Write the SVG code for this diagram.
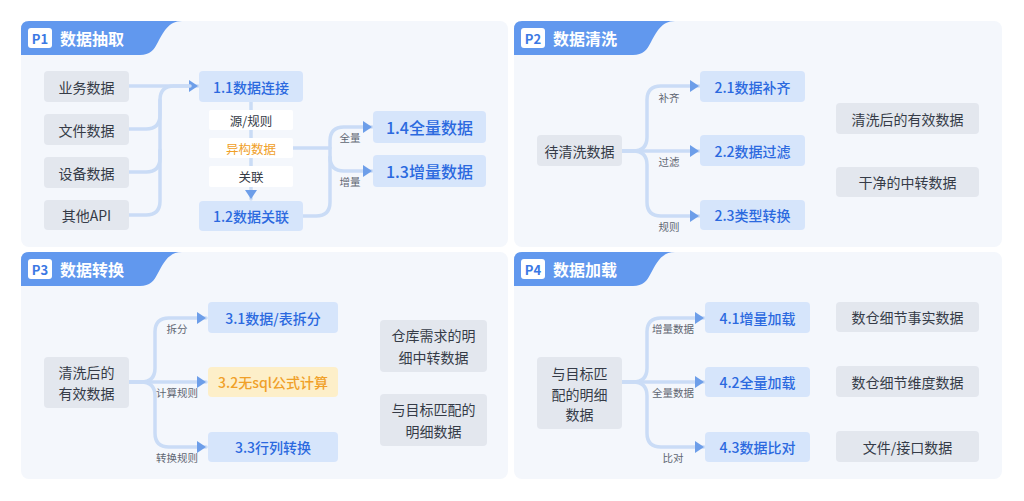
<svg xmlns="http://www.w3.org/2000/svg" width="1024" height="501" viewBox="0 0 1024 501">
<defs>
<style>
text{font-family:"Noto Sans CJK SC","Noto Sans",sans-serif;dominant-baseline:central;text-anchor:middle}
.panel{fill:#f4f7fc}
.tab{fill:#6198ee}
.badge{fill:#fff}
.bt{font-size:13px;font-weight:700;fill:#3b78e4}
.title{font-size:16px;font-weight:700;fill:#fff;text-anchor:start}
.g{fill:#e3e7ee}
.b{fill:#d6e5fb}
.w{fill:#fff}
.o{fill:#fdefc9}
.t{font-size:14px;fill:#353b47}
.tb{font-size:14px;font-weight:500;fill:#2b69df}
.tb16{font-size:16px;font-weight:500;fill:#2b69df}
.to{font-size:14px;font-weight:500;fill:#f0a028}
.ts{font-size:12.5px;fill:#353b47}
.to12{font-size:12.5px;fill:#f0a028}
.lbl{font-size:10.5px;fill:#5f6672}
.ln{fill:none;stroke:#cadcf6;stroke-width:3.5;stroke-linecap:round;stroke-linejoin:round}
</style>
<marker id="ah" markerWidth="9" markerHeight="12" refX="9" refY="6" orient="auto" markerUnits="userSpaceOnUse"><path d="M0,0 L9,6 L0,12 Z" fill="#6d9ee9"/></marker>
</defs>
<rect width="1024" height="501" fill="#fff"/>

<g id="panels">
<rect class="panel" x="21" y="21" width="487" height="226" rx="8"/>
<rect class="panel" x="514" y="21" width="488" height="226" rx="8"/>
<rect class="panel" x="21" y="252" width="487" height="227" rx="8"/>
<rect class="panel" x="514" y="252" width="488" height="227" rx="8"/>
</g>

<g id="tab-p1">
<path class="tab" d="M21,55 V29 Q21,21 29,21 H182 C168,21 163,33 158,42 C154,50 150,55 140,55 Z"/>
<rect class="badge" x="28" y="28" width="24" height="20" rx="3"/>
<text class="bt" x="40" y="38">P1</text>
<text class="title" x="60" y="38">数据抽取</text>
</g>
<g id="tab-p2">
<path class="tab" d="M514,55 V29 Q514,21 522,21 H675 C661,21 656,33 651,42 C647,50 643,55 633,55 Z"/>
<rect class="badge" x="521" y="28" width="24" height="20" rx="3"/>
<text class="bt" x="533" y="38">P2</text>
<text class="title" x="553" y="38">数据清洗</text>
</g>
<g id="tab-p3">
<path class="tab" d="M21,286 V260 Q21,252 29,252 H182 C168,252 163,264 158,273 C154,281 150,286 140,286 Z"/>
<rect class="badge" x="28" y="259" width="24" height="20" rx="3"/>
<text class="bt" x="40" y="269">P3</text>
<text class="title" x="60" y="269">数据转换</text>
</g>
<g id="tab-p4">
<path class="tab" d="M514,286 V260 Q514,252 522,252 H675 C661,252 656,264 651,273 C647,281 643,286 633,286 Z"/>
<rect class="badge" x="521" y="259" width="24" height="20" rx="3"/>
<text class="bt" x="533" y="269">P4</text>
<text class="title" x="553" y="269">数据加载</text>
</g>

<g id="connectors">
<path class="ln" d="M129,86 H198" marker-end="url(#ah)"/>
<path class="ln" d="M129,129 H146 Q160,129 160,115 V100 Q160,86 174,86 H190"/>
<path class="ln" d="M129,172 H146 Q160,172 160,158 V100"/>
<path class="ln" d="M129,215 H146 Q160,215 160,201 V150"/>
<path class="ln" d="M251,101 V199" marker-end="url(#ah)"/>
<path class="ln" d="M293,148 H330"/>
<path class="ln" d="M303,216 H316 Q330,216 330,202 V141 Q330,127 344,127 H372" marker-end="url(#ah)"/>
<path class="ln" d="M330,157 Q330,171 344,171 H372" marker-end="url(#ah)"/>
<path class="ln" d="M622,151 H699" marker-end="url(#ah)"/>
<path class="ln" d="M622,151 H633 Q647,151 647,137 V100 Q647,86 661,86 H699" marker-end="url(#ah)"/>
<path class="ln" d="M622,151 H633 Q647,151 647,165 V202 Q647,216 661,216 H699" marker-end="url(#ah)"/>
<path class="ln" d="M129,382 H206" marker-end="url(#ah)"/>
<path class="ln" d="M129,382 H141 Q155,382 155,368 V332 Q155,318 169,318 H206" marker-end="url(#ah)"/>
<path class="ln" d="M129,382 H141 Q155,382 155,396 V433 Q155,447 169,447 H206" marker-end="url(#ah)"/>
<path class="ln" d="M622,382 H704" marker-end="url(#ah)"/>
<path class="ln" d="M622,382 H633 Q647,382 647,368 V332 Q647,318 661,318 H704" marker-end="url(#ah)"/>
<path class="ln" d="M622,382 H633 Q647,382 647,396 V433 Q647,447 661,447 H704" marker-end="url(#ah)"/>
</g>

<g id="edge-labels">
<text class="lbl" x="350" y="137">全量</text>
<text class="lbl" x="350" y="181">增量</text>
<text class="lbl" x="669" y="97">补齐</text>
<text class="lbl" x="669" y="161">过滤</text>
<text class="lbl" x="669" y="226">规则</text>
<text class="lbl" x="177" y="328">拆分</text>
<text class="lbl" x="177" y="392">计算规则</text>
<text class="lbl" x="177" y="457">转换规则</text>
<text class="lbl" x="673" y="328">增量数据</text>
<text class="lbl" x="673" y="392">全量数据</text>
<text class="lbl" x="673" y="457">比对</text>
</g>

<g id="n-yewu"><rect class="g" x="44" y="71" width="85" height="31" rx="4"/><text class="t" x="86.5" y="86.5">业务数据</text></g>
<g id="n-wenjian"><rect class="g" x="44" y="114" width="85" height="31" rx="4"/><text class="t" x="86.5" y="129.5">文件数据</text></g>
<g id="n-shebei"><rect class="g" x="44" y="157" width="85" height="31" rx="4"/><text class="t" x="86.5" y="172.5">设备数据</text></g>
<g id="n-api"><rect class="g" x="44" y="200" width="85" height="30" rx="4"/><text class="t" x="86.5" y="215">其他API</text></g>
<g id="n-11"><rect class="b" x="199" y="71" width="104" height="31" rx="4"/><text class="tb" x="251" y="86.5">1.1数据连接</text></g>
<g id="n-yuan"><rect class="w" x="209" y="110" width="84" height="20" rx="2"/><text class="ts" x="251" y="120">源/规则</text></g>
<g id="n-yigou"><rect class="w" x="209" y="138" width="84" height="20" rx="2"/><text class="to12" x="251" y="148">异构数据</text></g>
<g id="n-guanlian"><rect class="w" x="209" y="166" width="84" height="21" rx="2"/><text class="ts" x="251" y="176.5">关联</text></g>
<g id="n-12"><rect class="b" x="199" y="201" width="104" height="30" rx="4"/><text class="tb" x="251" y="216">1.2数据关联</text></g>
<g id="n-14"><rect class="b" x="373" y="111" width="113" height="32" rx="4"/><text class="tb16" x="429.5" y="127">1.4全量数据</text></g>
<g id="n-13"><rect class="b" x="373" y="155" width="113" height="32" rx="4"/><text class="tb16" x="429.5" y="171">1.3增量数据</text></g>

<g id="n-daiqingxi"><rect class="g" x="537" y="135" width="85" height="31" rx="4"/><text class="t" x="579.5" y="150.5">待清洗数据</text></g>
<g id="n-21"><rect class="b" x="700" y="71" width="105" height="31" rx="4"/><text class="tb" x="752.5" y="86.5">2.1数据补齐</text></g>
<g id="n-22"><rect class="b" x="700" y="135" width="105" height="31" rx="4"/><text class="tb" x="752.5" y="150.5">2.2数据过滤</text></g>
<g id="n-23"><rect class="b" x="700" y="200" width="105" height="30" rx="4"/><text class="tb" x="752.5" y="215">2.3类型转换</text></g>
<g id="n-qingxihou"><rect class="g" x="836" y="103" width="143" height="31" rx="4"/><text class="t" x="907.5" y="118.5">清洗后的有效数据</text></g>
<g id="n-ganjing"><rect class="g" x="836" y="167" width="143" height="30" rx="4"/><text class="t" x="907.5" y="182">干净的中转数据</text></g>

<g id="n-p3src"><rect class="g" x="44" y="357" width="85" height="51" rx="4"/><text class="t" x="86.5" y="372">清洗后的</text><text class="t" x="86.5" y="393">有效数据</text></g>
<g id="n-31"><rect class="b" x="208" y="302" width="130" height="31" rx="4"/><text class="tb" x="273" y="317.5">3.1数据/表拆分</text></g>
<g id="n-32"><rect class="o" x="208" y="367" width="130" height="30" rx="4"/><text class="to" x="273" y="382">3.2无sql公式计算</text></g>
<g id="n-33"><rect class="b" x="208" y="432" width="130" height="30" rx="4"/><text class="tb" x="273" y="447">3.3行列转换</text></g>
<g id="n-cangku"><rect class="g" x="380" y="320" width="107" height="52" rx="4"/><text class="t" x="433.5" y="335">仓库需求的明</text><text class="t" x="433.5" y="357">细中转数据</text></g>
<g id="n-mubiao"><rect class="g" x="380" y="394" width="107" height="52" rx="4"/><text class="t" x="433.5" y="409">与目标匹配的</text><text class="t" x="433.5" y="431">明细数据</text></g>

<g id="n-p4src"><rect class="g" x="537" y="357" width="85" height="72" rx="4"/><text class="t" x="579.5" y="373">与目标匹</text><text class="t" x="579.5" y="393.5">配的明细</text><text class="t" x="579.5" y="414">数据</text></g>
<g id="n-41"><rect class="b" x="705" y="302" width="105" height="31" rx="4"/><text class="tb" x="757.5" y="317.5">4.1增量加载</text></g>
<g id="n-42"><rect class="b" x="705" y="367" width="105" height="30" rx="4"/><text class="tb" x="757.5" y="382">4.2全量加载</text></g>
<g id="n-43"><rect class="b" x="705" y="432" width="105" height="30" rx="4"/><text class="tb" x="757.5" y="447">4.3数据比对</text></g>
<g id="n-shishi"><rect class="g" x="836" y="302" width="143" height="30" rx="4"/><text class="t" x="907.5" y="317">数仓细节事实数据</text></g>
<g id="n-weidu"><rect class="g" x="836" y="366" width="143" height="31" rx="4"/><text class="t" x="907.5" y="381.5">数仓细节维度数据</text></g>
<g id="n-jiekou"><rect class="g" x="836" y="431" width="143" height="31" rx="4"/><text class="t" x="907.5" y="446.5">文件/接口数据</text></g>
</svg>
